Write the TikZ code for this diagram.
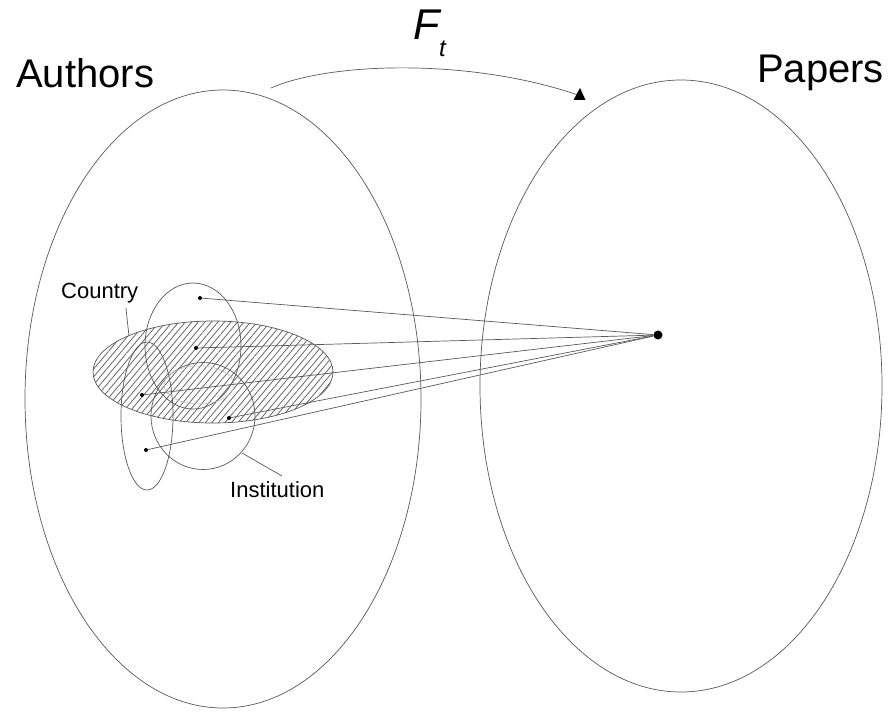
\documentclass[tikz,border=0pt]{standalone}
\usepackage{fontspec}
\setmainfont{Liberation Sans}
\usetikzlibrary{shapes.geometric,patterns.meta,arrows.meta}
\begin{document}
\begin{tikzpicture}[x=1pt,y=-1pt,
  ring/.style={ellipse,draw=black!65,line width=0.7pt,inner sep=0pt},
  pt/.style={circle,fill=black,inner sep=0pt,minimum size=4pt},
  link/.style={draw=black!65,line width=0.7pt},
  lbl/.style={inner sep=0pt}]
\useasboundingbox[fill=white] (0,0) rectangle (894,714);
% big sets
\node[ring,minimum width=396pt,minimum height=618pt] (authors) at (223,399) {};
\node[ring,minimum width=402pt,minimum height=612pt] (papers) at (681,386) {};
% country (hatched)
\node[ring,minimum width=240pt,minimum height=102pt,
  pattern={Lines[angle=50,distance=5pt,line width=0.8pt]},pattern color=black!60] (country) at (213,372) {};
% other groups
\node[ring,minimum width=96pt,minimum height=126pt] (grpA) at (193,346) {};
\node[ring,minimum width=52pt,minimum height=148pt] (grpB) at (147,416) {};
\node[ring,minimum width=104pt,minimum height=107pt] (inst) at (203,416) {};
\node[ellipse,draw=black!25,line width=0.6pt,inner sep=0pt,minimum width=70pt,minimum height=38pt] (faint) at (199,385) {};
% author dots and hub
\node[pt] (a1) at (200,298) {};
\node[pt] (a2) at (196,348) {};
\node[pt] (a3) at (142,395) {};
\node[pt] (a4) at (229,418) {};
\node[pt] (a5) at (146,450) {};
\node[circle,fill=black,inner sep=0pt,minimum size=9pt] (hub) at (658,335) {};
\foreach \a in {a1,a2,a3,a4,a5} \draw[link] (\a) -- (hub);
% labels
\node[lbl,anchor=base west,font=\fontsize{40}{48}\selectfont] (tauth) at (16,88) {Authors};
\node[lbl,anchor=base west,font=\fontsize{40}{48}\selectfont] (tpap) at (757,83) {Papers};
\node[lbl,anchor=base west,font=\fontsize{43}{50}\selectfont\itshape] (tF) at (413,40) {F};
\node[lbl,anchor=base west,font=\fontsize{24}{28}\selectfont\itshape] (tt) at (439,57) {t};
\node[lbl,anchor=base west,font=\fontsize{22}{26}\selectfont] (tcountry) at (61,298) {Country};
\node[lbl,anchor=base west,font=\fontsize{22}{26}\selectfont] (tinst) at (230,497) {Institution};
% leaders
\coordinate (cl1) at (126,308);
\coordinate (cl2) at (129,336);
\draw[link] (cl1) .. controls (127,318) .. (cl2);
\coordinate (il1) at (242,453);
\coordinate (il2) at (282,476);
\draw[link] (il1) -- (il2);
% mapping arrow
\coordinate (fs) at (271,88);
\coordinate (fe) at (578,95);
\draw[link] (fs) .. controls (330,62) and (470,58) .. (fe);
\fill[black] (580,88) -- (585.5,100) -- (573.5,100) -- cycle;
\end{tikzpicture}
\end{document}
